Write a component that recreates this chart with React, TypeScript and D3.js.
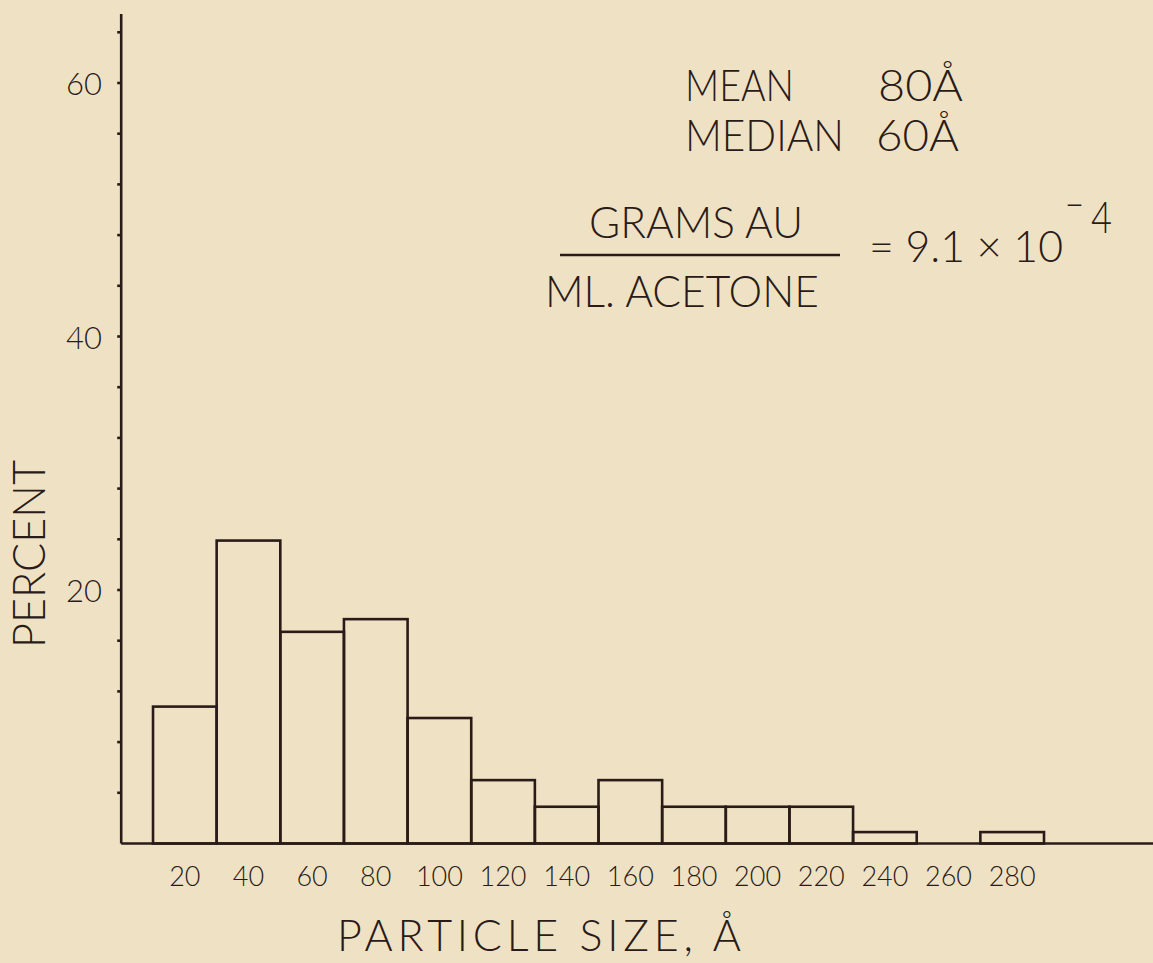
import React, { useEffect, useRef } from "react";
import * as d3 from "d3";

// ---- data ----
const binCenters = [20, 40, 60, 80, 100, 120, 140, 160, 180, 200, 220, 240, 260, 280];
const percents = [10.8, 23.9, 16.7, 17.7, 9.9, 5.0, 2.9, 5.0, 2.9, 2.9, 2.9, 0.9, 0, 0.9];
const yTickLabels = [20, 40, 60];
const yMinorTicks = d3.range(4, 65, 4);
const binWidth = 20;

const BG = "#EFE2C4";
const INK = "#2a1b18";
const FONT = "Lato, 'Open Sans', 'DejaVu Sans', sans-serif";

export default function App() {
  const ref = useRef<SVGSVGElement>(null);

  useEffect(() => {
    const svg = d3.select(ref.current);
    svg.selectAll("*").remove();

    const W = 1153, H = 963;
    const x = d3.scaleLinear().domain([0, 290]).range([121.2, 1044]);
    const y = d3.scaleLinear().domain([0, 60]).range([843.5, 83]);

    svg.append("rect").attr("width", W).attr("height", H).attr("fill", BG);

    const g = svg.append("g").attr("fill", "none").attr("stroke", INK).attr("stroke-width", 2.6);

    // bars
    const data = binCenters.map((c, i) => ({ c, v: percents[i] })).filter(d => d.v > 0);
    g.selectAll("rect.bar")
      .data(data)
      .enter()
      .append("rect")
      .attr("class", "bar")
      .attr("x", d => x(d.c - binWidth / 2))
      .attr("width", d => x(d.c + binWidth / 2) - x(d.c - binWidth / 2))
      .attr("y", d => y(d.v))
      .attr("height", d => y(0) - y(d.v));

    // y axis
    const yTop = 14;
    g.append("line").attr("x1", x(0)).attr("x2", x(0)).attr("y1", y(0)).attr("y2", yTop);
    g.selectAll("line.ytick")
      .data(yMinorTicks)
      .enter()
      .append("line")
      .attr("class", "ytick")
      .attr("x1", x(0) - 4)
      .attr("x2", x(0))
      .attr("y1", d => y(d))
      .attr("y2", d => y(d));

    // baseline
    g.append("line").attr("x1", x(0)).attr("x2", W).attr("y1", y(0)).attr("y2", y(0));

    const txt = svg.append("g").attr("fill", INK).attr("font-family", FONT).attr("font-weight", 300);

    // y tick labels
    txt.selectAll("text.ylab")
      .data(yTickLabels)
      .enter()
      .append("text")
      .attr("class", "ylab")
      .attr("x", 102)
      .attr("y", d => y(d) + 12)
      .attr("text-anchor", "end")
      .attr("font-size", 31)
      .text(d => String(d));

    // x tick labels
    txt.selectAll("text.xlab")
      .data(binCenters)
      .enter()
      .append("text")
      .attr("class", "xlab")
      .attr("x", d => x(d))
      .attr("y", 886)
      .attr("text-anchor", "middle")
      .attr("font-size", 27)
      .text(d => String(d));

    // axis titles
    txt.append("text")
      .attr("transform", "translate(45,554) rotate(-90)")
      .attr("text-anchor", "middle")
      .attr("font-size", 45)
      .attr("textLength", 188)
      .attr("lengthAdjust", "spacingAndGlyphs")
      .text("PERCENT");

    txt.append("text")
      .attr("x", 337)
      .attr("y", 951)
      .attr("font-size", 43)
      .attr("textLength", 404)
      .attr("lengthAdjust", "spacing")
      .text("PARTICLE  SIZE, Å");

    // annotations
    const ann: [string, number, number, number, number][] = [
      ["MEAN", 685, 101, 109, 43],
      ["80Å", 878, 101, 85, 43],
      ["MEDIAN", 685, 151, 159, 43],
      ["60Å", 876, 151, 83, 43],
      ["GRAMS AU", 589, 238, 214, 43],
      ["ML. ACETONE", 545, 307, 274, 43],
      ["= 9.1 × 10", 869, 262, 194, 43],
      ["−", 1065, 220, 19, 43],
      ["4", 1091, 233, 21, 43],
    ];
    txt.selectAll("text.ann")
      .data(ann)
      .enter()
      .append("text")
      .attr("class", "ann")
      .attr("x", d => d[1])
      .attr("y", d => d[2])
      .attr("font-size", d => d[4])
      .attr("textLength", d => d[3])
      .attr("lengthAdjust", "spacingAndGlyphs")
      .text(d => d[0]);

    g.append("line").attr("x1", 560).attr("x2", 840).attr("y1", 255).attr("y2", 255);
  }, []);

  return (
    <svg
      ref={ref}
      width={1153}
      height={963}
      style={{ position: "absolute", left: 0, top: 0, display: "block" }}
    />
  );
}
